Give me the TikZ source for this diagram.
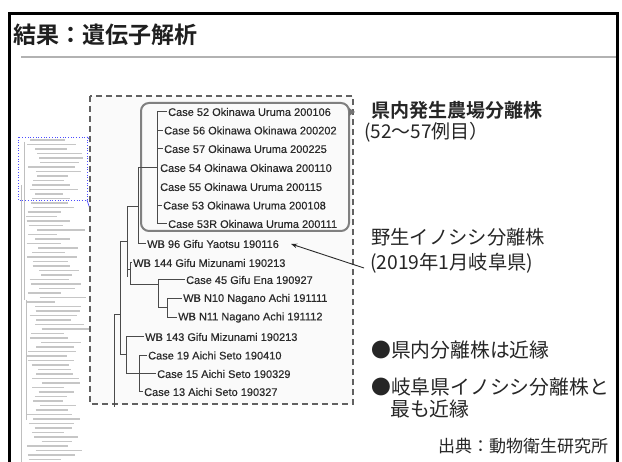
\documentclass[tikz,border=0pt]{standalone}
\usepackage{fontspec}
\newfontfamily\jp{Noto Sans CJK JP}
\newfontfamily\jpb{Noto Sans CJK JP Bold}
\newfontfamily\arialf[FakeBold=0.4]{Liberation Sans}
\usetikzlibrary{arrows.meta}
\definecolor{tgray}{HTML}{2A2A2A}
\tikzset{
  lab/.style={anchor=west, inner sep=0pt, font=\arialf\fontsize{11}{12}\selectfont, text=tgray},
  tree/.style={draw=tgray!85, line width=1pt},
  thumb/.style={draw=gray!45, line width=1.1pt},
  rtext/.style={anchor=west, inner sep=0pt, text=black!85},
}
\begin{document}
\begin{tikzpicture}[x=1pt,y=-1pt]
\useasboundingbox (0,0) rectangle (622,462);
\fill[white] (0,0) rectangle (622,462);
% frame
\draw[black, line width=3pt] (9.5,462) -- (9.5,13.5) -- (617,13.5) -- (617,462);
\draw[gray!60, line width=2.5pt] (21,57) -- (615.5,57);
\node[anchor=west, inner sep=0pt, text=black!88] (title) at (13,35) {\jpb\fontsize{23}{26}\selectfont 結果：遺伝子解析};

% thumbnail of full tree
\pgfmathsetseed{42}
\foreach \i in {0,...,71} {
  \pgfmathsetmacro\yy{140+\i*4.5}
  \pgfmathsetmacro\xs{26+rnd*16}
  \pgfmathsetmacro\ww{28+rnd*22}
  \draw[thumb] (\xs,\yy) -- ++(\ww,0);
}
\draw[gray!50, line width=0.6pt] (21,185) -- (21,462);
\draw[gray!50, line width=0.6pt] (24,142) -- (24,300);
\draw[gray!50, line width=0.6pt] (26,300) -- (26,420);
\draw[blue!70, dotted, line width=0.7pt] (18,137) rectangle (87,200);
\draw[blue!70, line width=0.7pt] (87,137) .. controls (90,138) .. (91,150);
\draw[blue!70, line width=0.7pt] (87,200) -- (91,212);

% dashed frame of the enlarged tree
\draw[black!62, line width=2.2pt, dash pattern=on 6pt off 4pt, fill=gray!4] (90,96) rectangle (353,404);
\draw[black!50, line width=2pt, rounded corners=8pt] (141,103) rectangle (349,231);
\fill[black!55] (349,108) -- (355,112) -- (349,116) -- cycle;

% labels
\node[lab] (c52) at (168,112) {Case 52 Okinawa Uruma 200106};
\node[lab] (c56) at (164,130.5) {Case 56 Okinawa Okinawa 200202};
\node[lab] (c57) at (164,149) {Case 57 Okinawa Uruma 200225};
\node[lab] (c54) at (160,168) {Case 54 Okinawa Okinawa 200110};
\node[lab] (c55) at (160,187) {Case 55 Okinawa Uruma 200115};
\node[lab] (c53) at (163,205.5) {Case 53 Okinawa Uruma 200108};
\node[lab] (c53r) at (168,224) {Case 53R Okinawa Uruma 200111};
\node[lab] (wb96) at (147,244) {WB 96 Gifu Yaotsu 190116};
\node[lab] (wb144) at (133,263) {WB 144 Gifu Mizunami 190213};
\node[lab] (c45) at (186,280) {Case 45 Gifu Ena 190927};
\node[lab] (wbn10) at (183,299) {WB N10 Nagano Achi 191111};
\node[lab] (wbn11) at (178,317.5) {WB N11 Nagano Achi 191112};
\node[lab] (wb143) at (145,337) {WB 143 Gifu Mizunami 190213};
\node[lab] (c19) at (148,355.5) {Case 19 Aichi Seto 190410};
\node[lab] (c15) at (157,374) {Case 15 Aichi Seto 190329};
\node[lab] (c13) at (144,392) {Case 13 Aichi Seto 190327};

% tree lines
\draw[tree] ([xshift=-1pt]c52.west) -- (157,112) -- (157,224) -- ([xshift=-1pt]c53r.west);
\draw[tree] (157,130.5) -- ([xshift=-1pt]c56.west);
\draw[tree] (157,149) -- ([xshift=-1pt]c57.west);
\draw[tree] (157,205.5) -- ([xshift=-1pt]c53.west);
\draw[tree] (157,168) -- (138,168) -- (138,244) -- ([xshift=-1pt]wb96.west);
\draw[tree] (138,207) -- (127,207) -- (127,277);
\draw[tree] (127,270) -- (130,270);
\draw[tree] ([xshift=-1pt]wb144.west) -- (130,263) -- (130,285) -- (158,285);
\draw[tree] ([xshift=-1pt]c45.west) -- (158,280) -- (158,308) -- (167,308);
\draw[tree] ([xshift=-1pt]wbn10.west) -- (167,299) -- (167,317.5) -- ([xshift=-1pt]wbn11.west);
\draw[tree] (127,242) -- (120,242) -- (120,355) -- (126,355);
\draw[tree] (114,407) -- (114,315) -- (120,315);
\draw[tree] ([xshift=-1pt]wb143.west) -- (126,337) -- (126,374) -- ([xshift=-1pt]c15.west);
\draw[tree] ([xshift=-1pt]c19.west) -- (139,355.5) -- (139,392) -- ([xshift=-1pt]c13.west);

% right-hand texts
\node[rtext] (farm) at (371,110) {\jpb\fontsize{19}{22}\selectfont 県内発生農場分離株};
\node[rtext] (farmsub) at (364,132) {\jp\fontsize{19}{22}\selectfont (52～57例目）};
\node[rtext] (boar) at (371,237) {\jp\fontsize{19.3}{22}\selectfont 野生イノシシ分離株};
\node[rtext] (boarsub) at (370,263) {\jp\fontsize{19.3}{22}\selectfont (2019年1月岐阜県)};
\coordinate (arrstart) at (364,268);
\draw[tgray, line width=0.9pt, -{Stealth[length=6pt,width=4.5pt]}] (arrstart) -- ([xshift=12pt]wb96.east);
\node[rtext] (b1) at (371,350) {\jp\fontsize{19.8}{22}\selectfont ●県内分離株は近縁};
\node[rtext] (b2) at (371,387) {\jp\fontsize{19.8}{22}\selectfont ●岐阜県イノシシ分離株と};
\node[rtext] (b3) at (390,409) {\jp\fontsize{19.8}{22}\selectfont 最も近縁};
\node[rtext] (src) at (438,446) {\jp\fontsize{17}{20}\selectfont 出典：動物衛生研究所};
\end{tikzpicture}
\end{document}
